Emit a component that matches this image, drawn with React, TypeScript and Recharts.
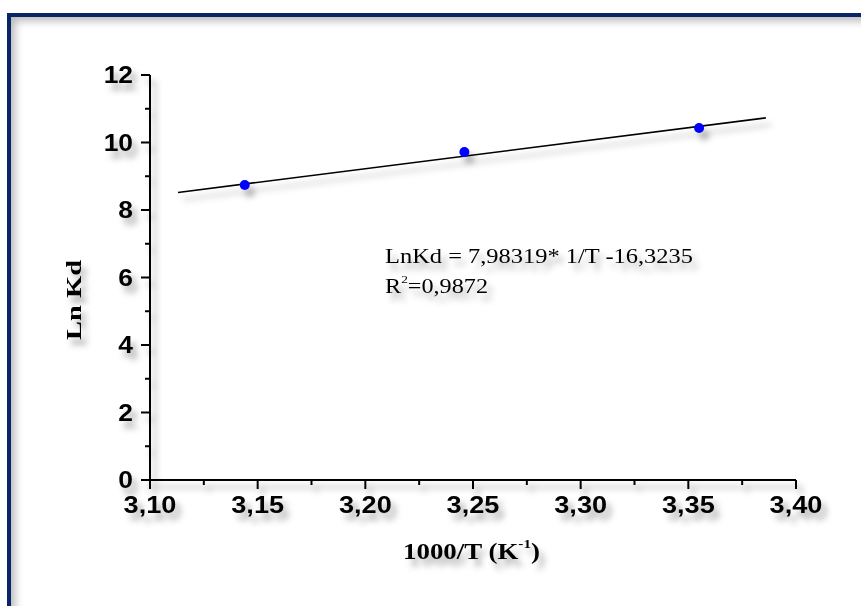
import React from 'react';
import { ComposedChart, Scatter, Line, XAxis, YAxis } from 'recharts';

const pointX = [3.144, 3.246, 3.355];
const pointY = [8.74, 9.72, 10.43];
const fitX = [3.113, 3.386];
const fitY = [8.52, 10.73];
const xTicks = [3.1, 3.125, 3.15, 3.175, 3.2, 3.225, 3.25, 3.275, 3.3, 3.325, 3.35, 3.375, 3.4];
const yTicks = [0, 1, 2, 3, 4, 5, 6, 7, 8, 9, 10, 11, 12];
const equationText = 'LnKd = 7,98319* 1/T -16,3235';
const r2Text = '=0,9872';
const xTitle = '1000/T (K';
const yTitle = 'Ln Kd';

const points = pointX.map((x, i) => ({ x, y: pointY[i] }));
const fit = fitX.map((x, i) => ({ x, y: fitY[i] }));

const W = 861;
const H = 606;

const isMajorX = (v: number) => Math.round(v * 1000) % 50 === 0;
const isMajorY = (v: number) => Math.round(v) % 2 === 0;

const XTick = (props: any) => {
  const { x, y, payload } = props;
  const v = payload.value;
  const major = isMajorX(v);
  return (
    <g>
      <line x1={x} x2={x} y1={y} y2={y + (major ? 9 : 5)} stroke="#000" strokeWidth={2} />
      {major && (
        <g transform={`translate(${x},${y + 33}) scale(1.13,1)`}>
          <text x={0} y={0} textAnchor="middle" fontFamily="'Liberation Sans', Arial, sans-serif" fontWeight="bold" fontSize={24} fill="#000">
            {v.toFixed(2).replace('.', ',')}
          </text>
        </g>
      )}
    </g>
  );
};

const YTick = (props: any) => {
  const { x, y, payload } = props;
  const v = payload.value;
  const major = isMajorY(v);
  return (
    <g>
      <line x1={x - (major ? 9 : 5)} x2={x} y1={y} y2={y} stroke="#000" strokeWidth={2} />
      {major && (
        <g transform={`translate(${x - 17},${y + 8}) scale(1.1,1)`}>
          <text x={0} y={0} textAnchor="end" fontFamily="'Liberation Sans', Arial, sans-serif" fontWeight="bold" fontSize={24} fill="#000">
            {String(v)}
          </text>
        </g>
      )}
    </g>
  );
};

export default function App() {
  return (
    <div style={{ position: 'fixed', left: 0, top: 0, width: W, height: H, overflow: 'hidden', background: '#fff' }}>
      <div
        style={{
          position: 'absolute',
          left: 7,
          top: 13,
          width: 1000,
          height: 1000,
          borderLeft: '4px solid #0a2468',
          borderTop: '4px solid #0a2468',
          boxShadow: 'inset 7px 7px 9px -3px rgba(0,0,0,0.28)',
        }}
      />
      <div style={{ position: 'absolute', left: 0, top: 0, width: W, height: H, filter: 'drop-shadow(5px 7px 3px rgba(0,0,0,0.32))' }}>
        <ComposedChart width={W} height={H} margin={{ top: 75, right: 65, bottom: 65, left: 70 }}>
          <XAxis
            type="number"
            dataKey="x"
            domain={[3.1, 3.4]}
            ticks={xTicks}
            interval={0}
            tickSize={0}
            tickMargin={0}
            tick={<XTick />}
            height={61}
            axisLine={{ stroke: '#000', strokeWidth: 2 }}
            allowDataOverflow
          />
          <YAxis
            type="number"
            dataKey="y"
            domain={[0, 12]}
            ticks={yTicks}
            interval={0}
            tickSize={0}
            tickMargin={0}
            tick={<YTick />}
            width={80}
            axisLine={{ stroke: '#000', strokeWidth: 2 }}
            allowDataOverflow
          />
          <Line data={fit} dataKey="y" type="linear" stroke="#000" strokeWidth={1.6} dot={false} activeDot={false} isAnimationActive={false} />
          <Scatter data={points} dataKey="y" fill="#0000ff" shape={(p: any) => <ellipse cx={p.cx} cy={p.cy} rx={5} ry={5} fill="#0000ff" />} isAnimationActive={false} />
        </ComposedChart>
        <svg width={W} height={H} style={{ position: 'absolute', left: 0, top: 0, pointerEvents: 'none' }}>
          <text x={385} y={263} fontFamily="'Liberation Serif', 'Times New Roman', serif" fontSize={20} textLength={308} lengthAdjust="spacingAndGlyphs" fill="#000">
            {equationText}
          </text>
          <text x={385} y={293} fontFamily="'Liberation Serif', 'Times New Roman', serif" fontSize={20} fill="#000" textLength={103} lengthAdjust="spacingAndGlyphs">
            <tspan>R</tspan>
            <tspan fontSize={11} dy={-10}>2</tspan>
            <tspan dy={10}>{r2Text}</tspan>
          </text>
          <text
            transform="translate(81,300) rotate(-90)"
            x={0}
            y={0}
            textAnchor="middle"
            fontFamily="'Liberation Serif', 'Times New Roman', serif"
            fontWeight="bold"
            fontSize={22}
            textLength={80}
            lengthAdjust="spacingAndGlyphs"
            fill="#000"
          >
            {yTitle}
          </text>
          <text x={403} y={559} fontFamily="'Liberation Serif', 'Times New Roman', serif" fontWeight="bold" fontSize={23} fill="#000" textLength={137} lengthAdjust="spacingAndGlyphs">
            <tspan>{xTitle}</tspan>
            <tspan fontSize={13} dy={-11}>-1</tspan>
            <tspan dy={11}>)</tspan>
          </text>
        </svg>
      </div>
    </div>
  );
}
